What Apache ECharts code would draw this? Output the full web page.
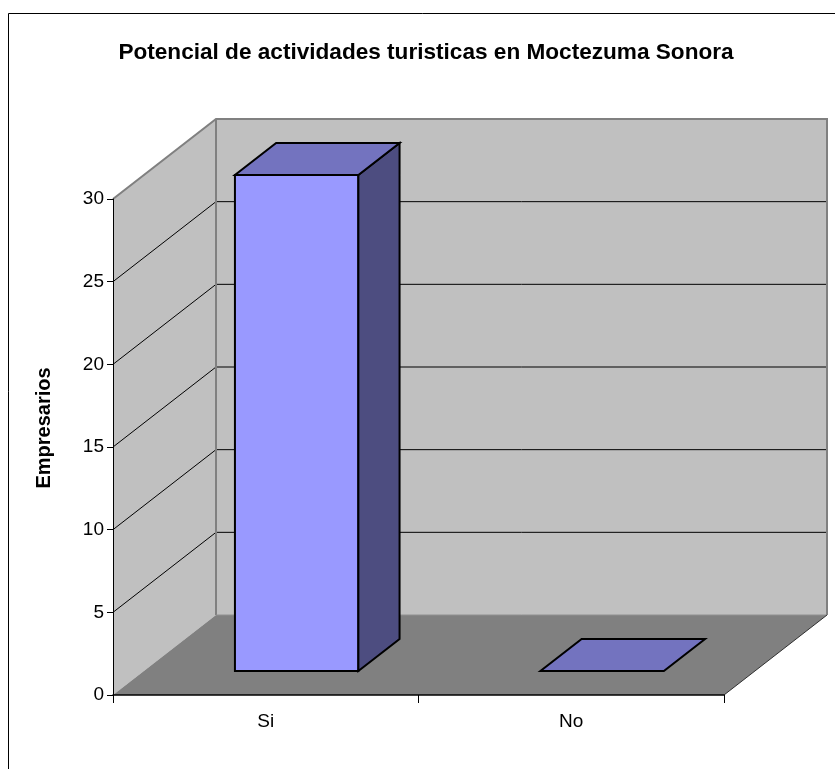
<!DOCTYPE html>
<html>
<head>
<meta charset="utf-8">
<script src="https://cdn.jsdelivr.net/npm/echarts@6/dist/echarts.min.js"></script>
<style>
  html, body { margin: 0; padding: 0; background: #ffffff; }
  #chart { width: 835px; height: 769px; }
</style>
</head>
<body>
<div id="chart"></div>
<script>
// Survey answers: number of business owners per answer
const categories = ['Si', 'No'];
const empresarios = [30, 0];
const yTicks = [0, 5, 10, 15, 20, 25, 30];

// Oblique projection used for the pseudo-3D box
const DEPTH = [103, -80];        // screen offset from the front plane to the back wall
const BAR_DEPTH = [0.3, 0.7];    // bar occupies this slice of the floor depth
const BAR_WIDTH = 0.404;         // fraction of the category band

const FONT = '"Liberation Sans", Arial, Helvetica, sans-serif';

const chart = echarts.init(document.getElementById('chart'));

// Side wall, back wall, floor and their gridlines
function renderWalls(params, api) {
  const cs = params.coordSys;
  const x0 = cs.x, x1 = cs.x + cs.width;
  const yMin = api.coord([0, yTicks[0]])[1];
  const yMax = api.coord([0, yTicks[yTicks.length - 1]])[1];
  const dx = DEPTH[0], dy = DEPTH[1];
  const children = [];
  children.push({ type: 'polygon', shape: { points: [[x0, yMax], [x0 + dx, yMax + dy], [x0 + dx, yMin + dy], [x0, yMin]] }, style: { fill: '#c0c0c0' } });
  children.push({ type: 'polygon', shape: { points: [[x0 + dx, yMax + dy], [x1 + dx, yMax + dy], [x1 + dx, yMin + dy], [x0 + dx, yMin + dy]] }, style: { fill: '#c0c0c0' } });
  children.push({ type: 'polygon', shape: { points: [[x0, yMin], [x1, yMin], [x1 + dx, yMin + dy], [x0 + dx, yMin + dy]] }, style: { fill: '#808080' } });
  yTicks.slice(1, -1).forEach(function (v) {
    const y = api.coord([0, v])[1];
    children.push({ type: 'polyline', shape: { points: [[x0, y], [x0 + dx, y + dy], [x1 + dx, y + dy]] }, style: { stroke: '#000', lineWidth: 1, fill: null } });
  });
  children.push({ type: 'polyline', shape: { points: [[x0, yMax], [x0 + dx, yMax + dy], [x1 + dx, yMax + dy], [x1 + dx, yMin + dy]] }, style: { stroke: '#808080', lineWidth: 2, fill: null } });
  children.push({ type: 'line', shape: { x1: x0 + dx, y1: yMax + dy, x2: x0 + dx, y2: yMin + dy }, style: { stroke: '#808080', lineWidth: 2 } });
  children.push({ type: 'line', shape: { x1: x0 + dx, y1: yMin + dy, x2: x1 + dx, y2: yMin + dy }, style: { stroke: '#909090', lineWidth: 1 } });
  children.push({ type: 'line', shape: { x1: x1, y1: yMin, x2: x1 + dx, y2: yMin + dy }, style: { stroke: '#303030', lineWidth: 1 } });
  return { type: 'group', children: children };
}

// Box-shaped bar: front face, right side and top
function renderBar(params, api) {
  const cat = api.value(0), val = api.value(1);
  const top = api.coord([cat, val]);
  const base = api.coord([cat, 0]);
  const w = api.size([1, 0])[0] * BAR_WIDTH;
  const ax = DEPTH[0] * BAR_DEPTH[0], ay = DEPTH[1] * BAR_DEPTH[0];
  const bx = DEPTH[0] * BAR_DEPTH[1], by = DEPTH[1] * BAR_DEPTH[1];
  const L = top[0] - w / 2, R = top[0] + w / 2;
  const yT = top[1], yB = base[1];
  const edge = { stroke: '#000', lineWidth: 2, lineJoin: 'miter' };
  const children = [];
  if (yB - yT > 0.5) {
    children.push({ type: 'polygon', shape: { points: [[L + ax, yT + ay], [R + ax, yT + ay], [R + ax, yB + ay], [L + ax, yB + ay]] }, style: Object.assign({ fill: '#9999ff' }, edge) });
    children.push({ type: 'polygon', shape: { points: [[R + ax, yT + ay], [R + bx, yT + by], [R + bx, yB + by], [R + ax, yB + ay]] }, style: Object.assign({ fill: '#4d4d80' }, edge) });
  }
  children.push({ type: 'polygon', shape: { points: [[L + ax, yT + ay], [R + ax, yT + ay], [R + bx, yT + by], [L + bx, yT + by]] }, style: Object.assign({ fill: '#7373bf' }, edge) });
  return { type: 'group', children: children };
}

chart.setOption({
  animation: false,
  backgroundColor: '#ffffff',
  title: {
    text: 'Potencial de actividades turisticas en Moctezuma Sonora',
    left: 421,
    top: 36,
    textAlign: 'center',
    textStyle: { fontFamily: FONT, fontSize: 22.6, fontWeight: 'bold', color: '#000' }
  },
  graphic: [
    { type: 'rect', z: 0, silent: true, shape: { x: 8.5, y: 13.5, width: 900, height: 900 }, style: { fill: null, stroke: '#000', lineWidth: 1 } },
    { type: 'text', x: 44, y: 428, rotation: Math.PI / 2, silent: true,
      style: { text: 'Empresarios', fontFamily: FONT, fontSize: 20, fontWeight: 'bold', fill: '#000', align: 'center', verticalAlign: 'middle' } }
  ],
  grid: { left: 113, right: 111, top: 199, bottom: 74 },
  xAxis: {
    type: 'category',
    data: categories,
    z: 5,
    axisLine: { lineStyle: { color: '#000', width: 1.5 } },
    axisTick: { show: true, length: 8, lineStyle: { color: '#000' } },
    axisLabel: { fontFamily: FONT, fontSize: 19, color: '#000', margin: 17 },
    splitLine: { show: false }
  },
  yAxis: {
    type: 'value',
    min: 0,
    max: 30,
    interval: 5,
    z: 5,
    axisLine: { show: true, lineStyle: { color: '#000', width: 1 } },
    axisTick: { show: true, length: 6, lineStyle: { color: '#000' } },
    axisLabel: { fontFamily: FONT, fontSize: 19, color: '#000', margin: 9 },
    splitLine: { show: false }
  },
  series: [
    {
      type: 'custom',
      name: 'walls',
      z: 1,
      silent: true,
      clip: false,
      renderItem: renderWalls,
      data: [[0, 0]]
    },
    {
      type: 'custom',
      name: 'Empresarios',
      z: 3,
      clip: false,
      renderItem: renderBar,
      encode: { x: 0, y: 1 },
      data: categories.map(function (c, i) { return [i, empresarios[i]]; })
    }
  ]
});
</script>
</body>
</html>
